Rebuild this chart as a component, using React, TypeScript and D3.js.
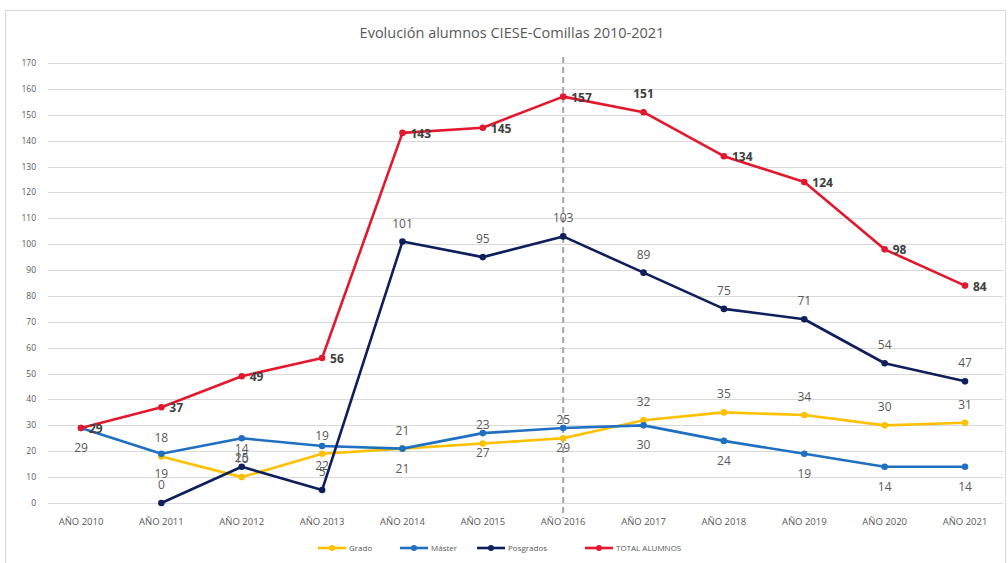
import React, { useEffect, useRef } from "react";
import * as d3 from "d3";

const years = ["AÑO 2010", "AÑO 2011", "AÑO 2012", "AÑO 2013", "AÑO 2014", "AÑO 2015", "AÑO 2016", "AÑO 2017", "AÑO 2018", "AÑO 2019", "AÑO 2020", "AÑO 2021"];
const grado = [null, 18, 10, 19, 21, 23, 25, 32, 35, 34, 30, 31];
const master = [29, 19, 25, 22, 21, 27, 29, 30, 24, 19, 14, 14];
const posgrados = [null, 0, 14, 5, 101, 95, 103, 89, 75, 71, 54, 47];
const total = [29, 37, 49, 56, 143, 145, 157, 151, 134, 124, 98, 84];
const yTicks = [0, 10, 20, 30, 40, 50, 60, 70, 80, 90, 100, 110, 120, 130, 140, 150, 160, 170];

const series = [
  { name: "Grado", values: grado, color: "#ffc000", label: "above", bold: false },
  { name: "Máster", values: master, color: "#1f70c1", label: "below", bold: false },
  { name: "Posgrados", values: posgrados, color: "#0e1f5b", label: "above", bold: false },
  { name: "TOTAL ALUMNOS", values: total, color: "#e3182d", label: "right", bold: true },
];

const FONT = "'Open Sans', 'Liberation Sans', sans-serif";

export default function App() {
  const ref = useRef<SVGSVGElement>(null);

  useEffect(() => {
    const svg = d3.select(ref.current);
    svg.selectAll("*").remove();

    const x = d3.scalePoint().domain(years).range([81, 965]);
    const y = d3.scaleLinear().domain([0, 170]).range([503, 63]);

    svg.append("rect").attr("width", 1008).attr("height", 563).attr("fill", "#fff");
    svg.append("rect").attr("x", 5.5).attr("y", 10.5).attr("width", 1000).attr("height", 570)
      .attr("fill", "none").attr("stroke", "#d9d9d9");

    // title
    svg.append("text").attr("x", 512).attr("y", 38).attr("text-anchor", "middle")
      .attr("font-family", FONT).attr("font-size", 14.5).attr("fill", "#595959")
      .text("Evolución alumnos CIESE-Comillas 2010-2021");

    // grid + y labels
    const g = svg.append("g");
    g.selectAll("line.grid").data(yTicks).join("line")
      .attr("x1", 48).attr("x2", 1003)
      .attr("y1", (d) => Math.round(y(d)) + 0.5).attr("y2", (d) => Math.round(y(d)) + 0.5)
      .attr("stroke", "#d9d9d9").attr("stroke-width", 1);
    g.selectAll("text.yl").data(yTicks).join("text")
      .attr("x", 36).attr("y", (d) => y(d) + 3).attr("text-anchor", "end")
      .attr("font-family", FONT).attr("font-size", 8.5).attr("fill", "#595959")
      .text((d) => d);

    // x labels
    g.selectAll("text.xl").data(years).join("text")
      .attr("x", (d) => x(d)).attr("y", 525).attr("text-anchor", "middle")
      .attr("font-family", FONT).attr("font-size", 9.5).attr("fill", "#595959")
      .text((d) => d);

    // dashed marker line at 2016
    svg.append("line").attr("x1", x("AÑO 2016")).attr("x2", x("AÑO 2016"))
      .attr("y1", 57).attr("y2", 518)
      .attr("stroke", "#a6a6a6").attr("stroke-width", 2).attr("stroke-dasharray", "6,4");

    // lines
    series.forEach((s) => {
      const pts = years.map((yr, i) => ({ yr, v: s.values[i] })).filter((p) => p.v != null);
      const line = d3.line<any>().x((p) => x(p.yr)).y((p) => y(p.v));
      svg.append("path").datum(pts).attr("d", line).attr("fill", "none")
        .attr("stroke", s.color).attr("stroke-width", 2.6).attr("stroke-linejoin", "round");
      svg.append("g").selectAll("circle").data(pts).join("circle")
        .attr("cx", (p) => x(p.yr)).attr("cy", (p) => y(p.v)).attr("r", 3.3)
        .attr("fill", s.color);
    });

    // data labels
    series.forEach((s) => {
      const pts = years.map((yr, i) => ({ yr, v: s.values[i] })).filter((p) => p.v != null);
      svg.append("g").selectAll("text").data(pts).join("text")
        .attr("x", (p) => {
          if (s.label === "right" && p.yr !== "AÑO 2017") return x(p.yr) + 8;
          return x(p.yr);
        })
        .attr("y", (p) => {
          const py = y(p.v);
          if (s.label === "right") return p.yr === "AÑO 2017" ? py - 14 : py + 5;
          if (s.label === "above") return py - 14;
          return py + 24;
        })
        .attr("text-anchor", (p) => (s.label === "right" && p.yr !== "AÑO 2017" ? "start" : "middle"))
        .attr("font-family", FONT).attr("font-size", 12)
        .attr("font-weight", s.bold ? "bold" : "normal")
        .attr("fill", s.bold ? "#404040" : "#595959")
        .text((p) => p.v);
    });

    // legend
    const legendX = [318, 400, 477, 585];
    series.forEach((s, i) => {
      const lg = svg.append("g").attr("transform", `translate(${legendX[i]},548)`);
      lg.append("line").attr("x1", 0).attr("x2", 28).attr("stroke", s.color).attr("stroke-width", 2.6);
      lg.append("circle").attr("cx", 14).attr("r", 3).attr("fill", s.color);
      lg.append("text").attr("x", 31).attr("y", 3).attr("font-family", FONT)
        .attr("font-size", 8).attr("fill", "#595959").text(s.name);
    });
  }, []);

  return (
    <svg ref={ref} width={1008} height={563}
      style={{ position: "absolute", left: 0, top: 0, display: "block" }} />
  );
}
